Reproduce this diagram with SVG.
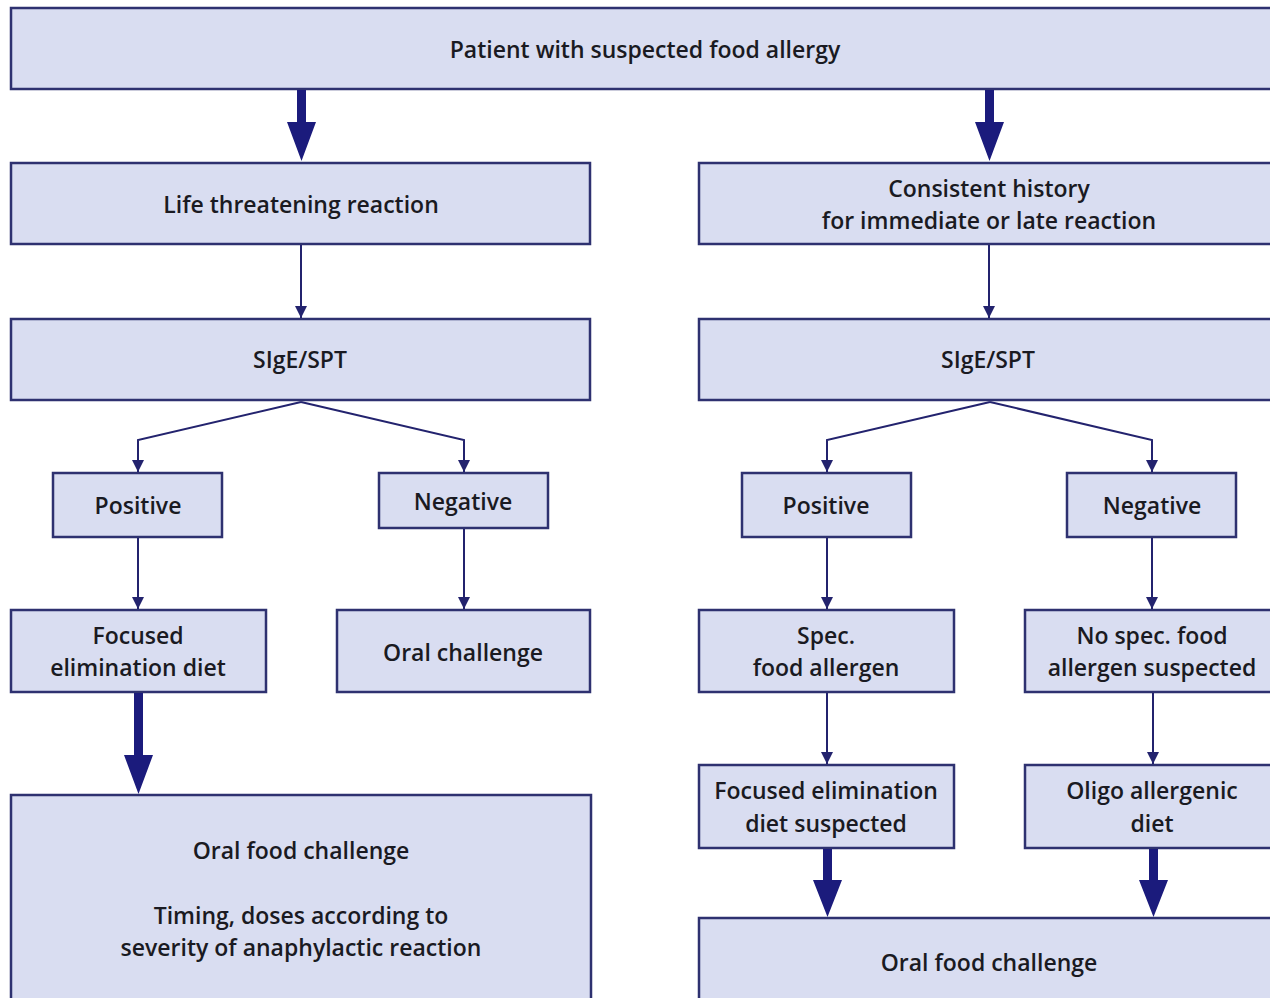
<svg xmlns="http://www.w3.org/2000/svg" width="1270" height="998" viewBox="0 0 1270 998">
<defs>
<style>
.box{fill:#d9ddf1;stroke:#2e3170;stroke-width:2.5}
.t{font-family:"Open Sans","Liberation Sans",sans-serif;font-size:23px;font-weight:600;fill:#1a1a22;text-anchor:middle}
.thin{fill:none;stroke:#23236e;stroke-width:2;marker-end:url(#ah)}
.thick{fill:#1b1b7c}
</style>
<marker id="ah" markerUnits="userSpaceOnUse" markerWidth="12" markerHeight="16" refX="12" refY="6" orient="auto">
<path d="M0,0 L12,6 L0,12 Z" fill="#23236e"/>
</marker>
</defs>
<rect width="1270" height="998" fill="#ffffff"/>

<g id="n-top"><rect class="box" x="11" y="8" width="1270" height="81"/><text class="t" x="645" y="58">Patient with suspected food allergy</text></g>

<g id="n-life"><rect class="box" x="11" y="163" width="579" height="81"/><text class="t" x="301" y="213">Life threatening reaction</text></g>
<g id="n-consistent"><rect class="box" x="699" y="163" width="590" height="81"/><text class="t" x="989" y="197">Consistent history</text><text class="t" x="989" y="229">for immediate or late reaction</text></g>

<g id="n-sige-l"><rect class="box" x="11" y="319" width="579" height="81"/><text class="t" x="300" y="368">SIgE/SPT</text></g>
<g id="n-sige-r"><rect class="box" x="699" y="319" width="590" height="81"/><text class="t" x="988" y="368">SIgE/SPT</text></g>

<g id="n-pos-l"><rect class="box" x="53" y="473" width="169" height="64"/><text class="t" x="138" y="514">Positive</text></g>
<g id="n-neg-l"><rect class="box" x="379" y="473" width="169" height="55"/><text class="t" x="463" y="510">Negative</text></g>
<g id="n-pos-r"><rect class="box" x="742" y="473" width="169" height="64"/><text class="t" x="826" y="514">Positive</text></g>
<g id="n-neg-r"><rect class="box" x="1067" y="473" width="169" height="64"/><text class="t" x="1152" y="514">Negative</text></g>

<g id="n-focused"><rect class="box" x="11" y="610" width="255" height="82"/><text class="t" x="138" y="644">Focused</text><text class="t" x="138" y="676">elimination diet</text></g>
<g id="n-oral"><rect class="box" x="337" y="610" width="253" height="82"/><text class="t" x="463" y="661">Oral challenge</text></g>
<g id="n-spec"><rect class="box" x="699" y="610" width="255" height="82"/><text class="t" x="826" y="644">Spec.</text><text class="t" x="826" y="676">food allergen</text></g>
<g id="n-nospec"><rect class="box" x="1025" y="610" width="260" height="82"/><text class="t" x="1152" y="644">No spec. food</text><text class="t" x="1152" y="676">allergen suspected</text></g>

<g id="n-fed"><rect class="box" x="699" y="765" width="255" height="83"/><text class="t" x="826" y="799">Focused elimination</text><text class="t" x="826" y="832">diet suspected</text></g>
<g id="n-oligo"><rect class="box" x="1025" y="765" width="260" height="83"/><text class="t" x="1152" y="799">Oligo allergenic</text><text class="t" x="1152" y="832">diet</text></g>

<g id="n-ofc-l"><rect class="box" x="11" y="795" width="580" height="215"/><text class="t" x="301" y="859">Oral food challenge</text><text class="t" x="301" y="924">Timing, doses according to</text><text class="t" x="301" y="956">severity of anaphylactic reaction</text></g>
<g id="n-ofc-r"><rect class="box" x="699" y="918" width="590" height="100"/><text class="t" x="989" y="971">Oral food challenge</text></g>

<g id="connectors">
<polygon class="thick" points="297,90 306,90 306,122 316,122 301.5,161 287,122 297,122"/>
<polygon class="thick" points="985,90 994,90 994,122 1004,122 989.5,161 975,122 985,122"/>
<line class="thin" x1="301" y1="245" x2="301" y2="318"/>
<line class="thin" x1="989" y1="245" x2="989" y2="318"/>
<polyline class="thin" points="301,402 138,440 138,472"/>
<polyline class="thin" points="301,402 464,440 464,472"/>
<polyline class="thin" points="990,402 827,440 827,472"/>
<polyline class="thin" points="990,402 1152,440 1152,472"/>
<line class="thin" x1="138" y1="538" x2="138" y2="609"/>
<line class="thin" x1="464" y1="529" x2="464" y2="609"/>
<line class="thin" x1="827" y1="538" x2="827" y2="609"/>
<line class="thin" x1="1152" y1="538" x2="1152" y2="609"/>
<line class="thin" x1="827" y1="693" x2="827" y2="764"/>
<line class="thin" x1="1153" y1="693" x2="1153" y2="764"/>
<polygon class="thick" points="134,693 143,693 143,755 153,755 138.5,794 124,755 134,755"/>
<polygon class="thick" points="823,849 832,849 832,880 842,880 827.5,917 813,880 823,880"/>
<polygon class="thick" points="1149,849 1158,849 1158,880 1168,880 1153.5,917 1139,880 1149,880"/>
</g>
</svg>
